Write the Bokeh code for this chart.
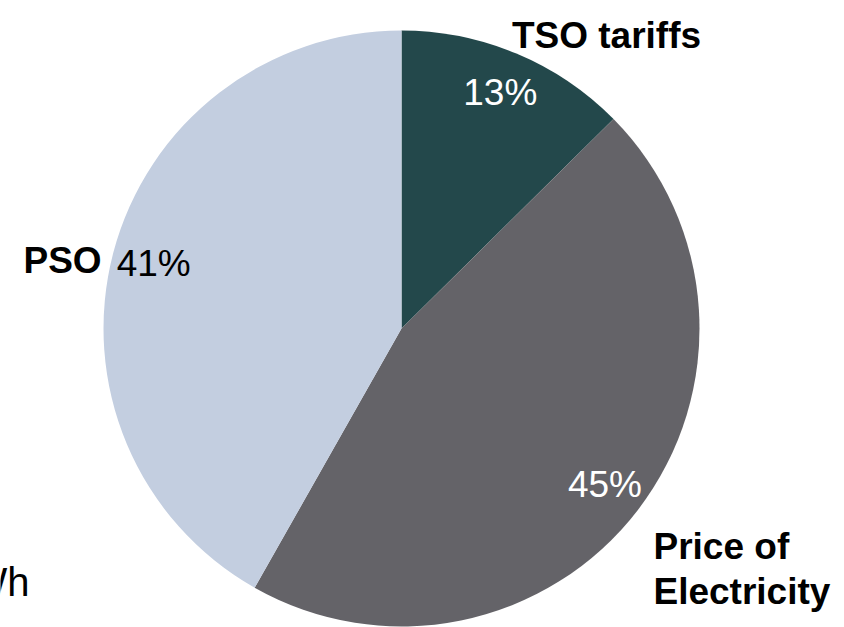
import math
from bokeh.plotting import figure
from bokeh.models import Range1d, ColumnDataSource, Label
from bokeh.embed import file_html
from bokeh.resources import INLINE

# ---- data ----
categories = ["TSO tariffs", "Price of Electricity", "PSO"]
shares = [12.6, 45.6, 41.8]
pct_labels = ["13%", "45%", "41%"]
colors = ["#23484B", "#646368", "#C3CEE0"]
pct_colors = ["white", "white", "black"]

# ---- layout (screen-like coordinates: data y = 627 - screen y) ----
W, H = 844, 627
p = figure(width=W, height=H, output_backend="svg", toolbar_location=None,
           x_range=Range1d(0, W), y_range=Range1d(627 - H, 627),
           min_border=0, outline_line_color=None, background_fill_color="white",
           border_fill_color="white")
p.axis.visible = False
p.grid.visible = False

cx, cy, R = 401, 627 - 328, 298

total = sum(shares)
starts, ends, mids = [], [], []
cum = 0.0
for s in shares:
    a0 = 90 - (cum + s) / total * 360
    a1 = 90 - cum / total * 360
    starts.append(math.radians(a0))
    ends.append(math.radians(a1))
    mids.append(math.radians((a0 + a1) / 2))
    cum += s

src = ColumnDataSource(dict(x=[cx] * 3, y=[cy] * 3, start=starts, end=ends,
                            color=colors, cat=categories))
p.wedge(x="x", y="y", radius=R, radius_units="data", start_angle="start",
        end_angle="end", fill_color="color", line_color=None, source=src)

FONT = "Liberation Sans"
lr = 0.86 * R
for m, t, c in zip(mids, pct_labels, pct_colors):
    p.add_layout(Label(x=cx + lr * math.cos(m), y=cy + lr * math.sin(m), text=t,
                       text_align="center", text_baseline="middle",
                       text_font=FONT, text_font_size="37px", text_color=c))

# category labels (annotation placement)
cat_pos = {
    "TSO tariffs": [(606, 35, "center", "TSO tariffs")],
    "PSO": [(23, 260, "left", "PSO")],
    "Price of Electricity": [(653, 546, "left", "Price of"),
                             (653, 591, "left", "Electricity")],
}
for cat in categories:
    for sx, sy, al, txt in cat_pos[cat]:
        p.add_layout(Label(x=sx, y=627 - sy, text=txt, text_align=al,
                           text_baseline="alphabetic", text_font=FONT,
                           text_font_size="37px", text_font_style="bold",
                           text_color="black"))

# partially visible unit text at left edge
p.add_layout(Label(x=29, y=627 - 581, text="øre/kWh", text_align="right",
                   text_baseline="alphabetic", text_font=FONT,
                   text_font_size="40px", text_color="black"))

open("out.html", "w").write(file_html(p, INLINE))
